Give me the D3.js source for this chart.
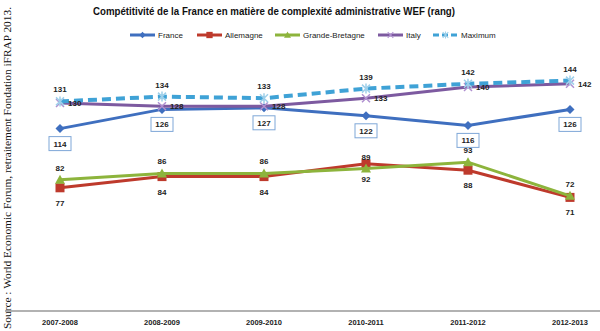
<!DOCTYPE html>
<html lang="fr">
<head>
<meta charset="UTF-8" />
<title>Compétitivité de la France - complexité administrative WEF</title>
<style>
  body { margin: 0; background: #fff; }
  svg { display: block; font-family: "Liberation Sans", Arial, sans-serif; }
  .lbl { font-size: 8px; font-weight: bold; fill: #222; }
  .tick { font-size: 7.5px; font-weight: bold; fill: #222; }
  .leg { font-size: 8px; fill: #222; }
</style>
</head>
<body>
<svg width="600" height="331"></svg>
<script src="https://d3js.org/d3.v7.min.js"></script>
<script>
var years = ["2007-2008", "2008-2009", "2009-2010", "2010-2011", "2011-2012", "2012-2013"];
var france = [114, 126, 127, 122, 116, 126];
var allemagne = [77, 84, 84, 92, 88, 71];
var grandeBretagne = [82, 86, 86, 89, 93, 72];
var italy = [130, 128, 128, 133, 140, 142];
var maximum = [131, 134, 133, 139, 142, 144];

var series = [
  {name: "France", values: france, color: "#3f6fbf", marker: "diamond", label: "box"},
  {name: "Allemagne", values: allemagne, color: "#be3a2c", marker: "square", label: "below"},
  {name: "Grande-Bretagne", values: grandeBretagne, color: "#8db43c", marker: "triangle", label: "above"},
  {name: "Italy", values: italy, color: "#7d5aa0", marker: "x", label: "right"},
  {name: "Maximum", values: maximum, color: "#3fa2d6", marker: "star", label: "above", dash: "9,5"}
];

var svg = d3.select("svg");

var x = d3.scalePoint().domain(years).range([60, 570]);
var y = d3.scaleLinear().domain([0, 160]).range([311, 55]);

// titre
svg.append("text")
   .attr("x", 274).attr("y", 15)
   .attr("text-anchor", "middle")
   .attr("textLength", 362).attr("lengthAdjust", "spacingAndGlyphs")
   .style("font-size", "10.5px").style("font-weight", "bold").style("fill", "#111")
   .text("Compétitivité de la France en matière de complexité administrative WEF (rang)");

// source verticale
svg.append("text")
   .attr("transform", "translate(11,168) rotate(-90)")
   .attr("text-anchor", "middle")
   .attr("textLength", 322).attr("lengthAdjust", "spacingAndGlyphs")
   .style("font-family", "'Liberation Serif', 'Times New Roman', serif")
   .style("font-size", "11px").style("fill", "#111")
   .text("Source : World Economic Forum, retraitement Fondation iFRAP 2013.");

// axe horizontal
svg.append("line")
   .attr("x1", 5).attr("x2", 600)
   .attr("y1", y(0)).attr("y2", y(0))
   .attr("stroke", "#999").attr("stroke-width", 1.5);

svg.selectAll(".tick").data(years).enter().append("text")
   .attr("class", "tick")
   .attr("x", function(d) { return x(d); })
   .attr("y", 325)
   .attr("text-anchor", "middle")
   .text(function(d) { return d; });

function drawMarker(g, type, color) {
  if (type === "diamond") {
    g.append("path").attr("d", "M0,-4.5L4.5,0L0,4.5L-4.5,0Z").attr("fill", color);
  } else if (type === "square") {
    g.append("rect").attr("x", -4.5).attr("y", -4.5).attr("width", 9).attr("height", 9).attr("fill", color);
  } else if (type === "triangle") {
    g.append("path").attr("d", "M0,-5L5,4L-5,4Z").attr("fill", color);
  } else if (type === "x") {
    g.append("path").attr("d", "M-4,-4L4,4M-4,4L4,-4").attr("stroke", "#b090d0").attr("stroke-width", 1.5);
  } else if (type === "star") {
    g.append("path").attr("d", "M-4,-4L4,4M-4,4L4,-4M0,-5L0,5").attr("stroke", "#9fd0ea").attr("stroke-width", 1.5);
  }
}

var line = d3.line()
  .x(function(d, i) { return x(years[i]); })
  .y(function(d) { return y(d); });

series.forEach(function(s) {
  svg.append("path")
     .datum(s.values)
     .attr("d", line)
     .attr("fill", "none")
     .attr("stroke", s.color)
     .attr("stroke-width", s.dash ? 4 : 3)
     .attr("stroke-dasharray", s.dash || null);

  s.values.forEach(function(v, i) {
    var g = svg.append("g").attr("transform", "translate(" + x(years[i]) + "," + y(v) + ")");
    drawMarker(g, s.marker, s.color);
  });
});

// étiquettes
series.forEach(function(s) {
  s.values.forEach(function(v, i) {
    var px = x(years[i]), py = y(v);
    if (s.label === "box") {
      svg.append("rect")
         .attr("x", px - 11).attr("y", py + 8)
         .attr("width", 22).attr("height", 14)
         .attr("fill", "#fff").attr("stroke", "#7fa7d8").attr("stroke-width", 1);
      svg.append("text").attr("class", "lbl")
         .attr("x", px).attr("y", py + 18)
         .attr("text-anchor", "middle").text(v);
    } else if (s.label === "above") {
      svg.append("text").attr("class", "lbl")
         .attr("x", px).attr("y", py - 9)
         .attr("text-anchor", "middle").text(v);
    } else if (s.label === "below") {
      svg.append("text").attr("class", "lbl")
         .attr("x", px).attr("y", py + 18)
         .attr("text-anchor", "middle").text(v);
    } else {
      svg.append("text").attr("class", "lbl")
         .attr("x", px + 8).attr("y", py + 3)
         .attr("text-anchor", "start").text(v);
    }
  });
});

// légende
var legX = [130, 197, 275, 378, 433];
series.forEach(function(s, i) {
  var g = svg.append("g").attr("transform", "translate(" + legX[i] + ",35)");
  g.append("line").attr("x1", 0).attr("x2", 25)
   .attr("stroke", s.color).attr("stroke-width", 3)
   .attr("stroke-dasharray", s.dash ? "6,3" : null);
  var m = g.append("g").attr("transform", "translate(12.5,0) scale(0.7)");
  drawMarker(m, s.marker, s.color);
  g.append("text").attr("class", "leg").attr("x", 28).attr("y", 3).text(s.name);
});
</script>
</body>
</html>
